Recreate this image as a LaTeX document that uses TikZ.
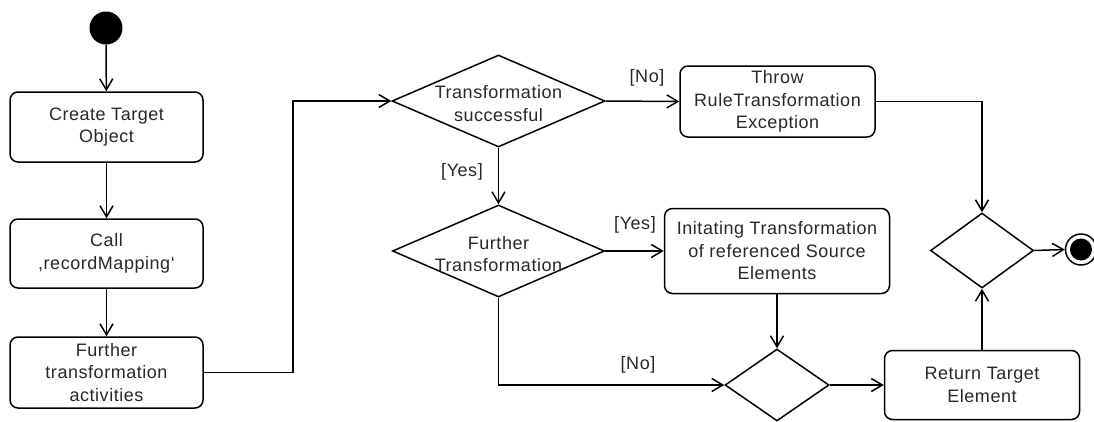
\documentclass[tikz,border=0pt]{standalone}
\usepackage{fontspec}
\setmainfont{Liberation Sans}[LetterSpace=3]
\usetikzlibrary{shapes.geometric,arrows.meta}
\definecolor{ink}{RGB}{40,40,40}
\begin{document}
\begin{tikzpicture}[x=1pt,y=-1pt,
  every node/.style={font=\fontsize{18}{22.5}\selectfont, text=ink},
  act/.style={draw, line width=1.5pt, rounded corners=8pt, align=center, inner sep=0pt},
  dec/.style={draw, diamond, line width=1.5pt, inner sep=0pt},
  flow/.style={draw, line width=1.5pt, -{Straight Barb[length=11pt,width=13pt,line width=1.5pt]}},
  guard/.style={inner sep=0pt},
  dtext/.style={align=center, inner sep=0pt}]
  \useasboundingbox (0,0) rectangle (1094,421);

  % initial and final states
  \node[circle, fill=black, minimum size=33pt, inner sep=0pt] (start) at (106,28) {};
  \node[circle, draw, line width=1.5pt, fill=white, minimum size=31pt, inner sep=0pt] (stop) at (1081,249.5) {};
  \node[circle, fill=black, minimum size=22pt, inner sep=0pt] (stopdot) at (stop) {};

  % actions
  \node[act, minimum width=193pt, minimum height=70pt] (create) at (106.5,127) {Create Target\\Object};
  \node[act, minimum width=193pt, minimum height=69pt] (call) at (106.5,253.5) {Call\\,recordMapping`};
  \node[act, minimum width=193pt, minimum height=71pt] (further) at (106.5,372.5) {Further\\transformation\\activities};
  \node[act, minimum width=195pt, minimum height=71pt] (throw) at (777.5,101.5) {Throw\\RuleTransformation\\Exception};
  \node[act, minimum width=225pt, minimum height=85pt] (init) at (777,251) {Initating Transformation\\of referenced Source\\Elements};
  \node[act, minimum width=195pt, minimum height=69pt] (ret) at (982,385) {Return Target\\Element};

  % decisions and merges
  \node[dec, minimum width=213pt, minimum height=92pt] (d1) at (498.5,101) {};
  \node[dtext] (d1t) at (498.5,103.5) {Transformation\\successful};
  \node[dec, minimum width=212pt, minimum height=92pt] (d2) at (498.5,251) {};
  \node[dtext] (d2t) at (498.5,254) {Further\\Transformation};
  \node[dec, minimum width=104pt, minimum height=72pt] (m2) at (777,385) {};
  \node[dec, minimum width=103pt, minimum height=75pt] (d3) at (982,250.5) {};

  % control flow
  \coordinate (bend) at (293,101);
  \draw[flow] (start) -- (create);
  \draw[flow] (create) -- (call);
  \draw[flow] (call) -- (further);
  \draw[flow] (further.east) -| (bend) -- (d1.west);
  \draw[flow] (d1.south) -- (d2.north);
  \draw[flow] (d1.east) -- (throw.west);
  \draw[flow] (throw.east) -| (d3.north);
  \draw[flow] (d2.east) -- (init.west);
  \draw[flow] (init.south) -- (m2.north);
  \draw[flow] (d2.south) |- (m2.west);
  \draw[flow] (m2.east) -- (ret.west);
  \draw[flow] (ret.north) -- (d3.south);
  \draw[flow] (d3.east) -- (stop.west);

  % guards
  \node[guard] (gno1) at (647,78) {[No]};
  \node[guard] (gyes1) at (462,172) {[Yes]};
  \node[guard] (gyes2) at (635,225) {[Yes]};
  \node[guard] (gno2) at (638,365) {[No]};
\end{tikzpicture}
\end{document}
